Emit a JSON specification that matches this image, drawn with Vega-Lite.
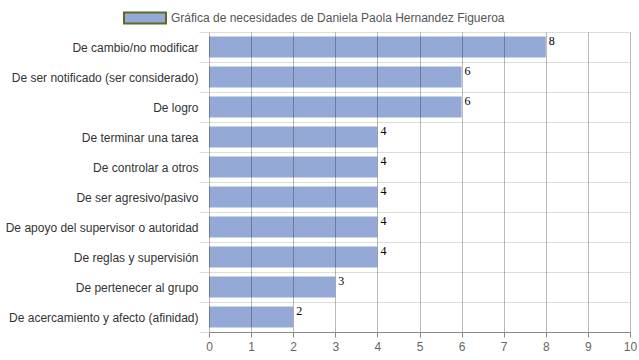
{
  "$schema": "https://vega.github.io/schema/vega-lite/v6.json",
  "autosize": {"type": "none"},
  "padding": {"left": 209, "top": 32, "right": 9, "bottom": 28},
  "width": 421,
  "height": 300,
  "background": "white",
  "config": {
    "view": {"stroke": null},
    "font": "Liberation Sans"
  },
  "data": {
    "values": [
      {"necesidad": "De cambio/no modificar", "valor": 8},
      {"necesidad": "De ser notificado (ser considerado)", "valor": 6},
      {"necesidad": "De logro", "valor": 6},
      {"necesidad": "De terminar una tarea", "valor": 4},
      {"necesidad": "De controlar a otros", "valor": 4},
      {"necesidad": "De ser agresivo/pasivo", "valor": 4},
      {"necesidad": "De apoyo del supervisor o autoridad", "valor": 4},
      {"necesidad": "De reglas y supervisión", "valor": 4},
      {"necesidad": "De pertenecer al grupo", "valor": 3},
      {"necesidad": "De acercamiento y afecto (afinidad)", "valor": 2}
    ]
  },
  "encoding": {
    "y": {
      "field": "necesidad",
      "type": "nominal",
      "sort": null,
      "scale": {"paddingInner": 0, "paddingOuter": 0},
      "axis": {
        "title": null,
        "tickBand": "extent",
        "grid": true,
        "gridColor": "#dddddd",
        "tickColor": "#dddddd",
        "tickSize": 10,
        "domain": false,
        "labelPadding": 1,
        "labelFontSize": 12,
        "labelColor": "#333333",
        "labelLimit": 250
      }
    },
    "x": {
      "field": "valor",
      "type": "quantitative",
      "scale": {"domain": [0, 10], "nice": false},
      "axis": {
        "title": null,
        "values": [0,1,2,3,4,5,6,7,8,9,10],
        "labelOverlap": false,
        "labelFlush": false,
        "grid": true,
        "gridColor": "#000000",
        "gridOpacity": 0.27,
        "domainColor": "#888888",
        "tickColor": "#888888",
        "tickSize": 5,
        "labelPadding": 4,
        "labelFontSize": 12,
        "labelColor": "#666666",
        "zindex": 1
      }
    }
  },
  "layer": [
    {
      "mark": {"type": "bar", "fill": "#94a9d6", "height": {"band": 0.7}},
      "encoding": {
        "color": {
          "datum": "Gráfica de necesidades de Daniela Paola Hernandez Figueroa",
          "scale": {"range": ["#94a9d6"]},
          "legend": {
            "title": null,
            "orient": "none",
            "legendX": -86,
            "legendY": -36,
            "symbolType": "M-1,-0.262H1V0.262H-1Z",
            "symbolSize": 1764,
            "symbolStrokeColor": "#5e6b26",
            "symbolStrokeWidth": 2,
            "symbolFillColor": "#94a9d6",
            "symbolOpacity": 1,
            "labelFontSize": 12,
            "labelColor": "#555555",
            "labelOffset": 4,
            "labelLimit": 500
          }
        }
      }
    },
    {
      "mark": {"type": "text", "align": "left", "baseline": "middle", "dx": 3, "dy": -6, "font": "Liberation Serif", "fontSize": 12, "color": "#000000"},
      "encoding": {
        "text": {"field": "valor", "type": "quantitative"}
      }
    }
  ]
}
